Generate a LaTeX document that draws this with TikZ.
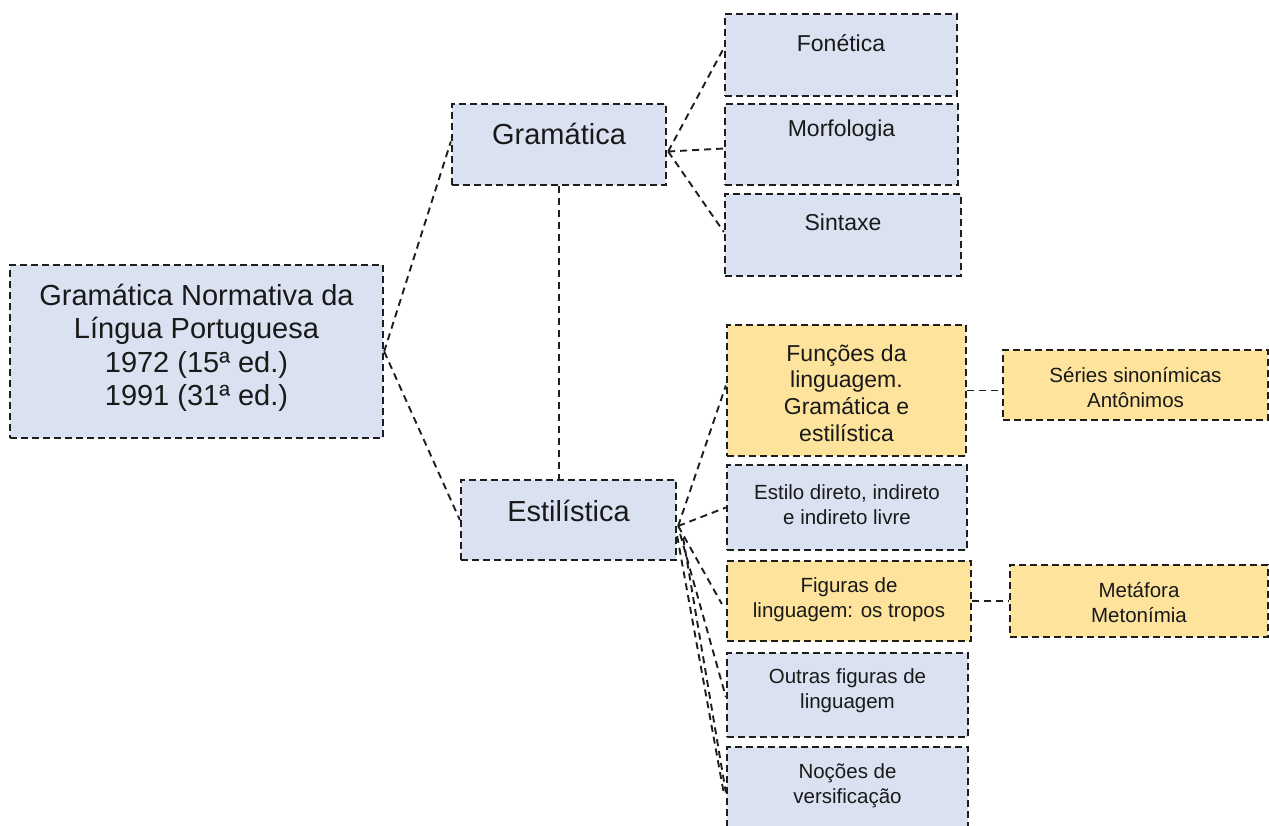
\documentclass[tikz,border=0pt]{standalone}
\usepackage{fontspec}
\setmainfont{Liberation Sans}
\usetikzlibrary{calc}
\definecolor{bfill}{HTML}{DAE2F2}
\definecolor{yfill}{HTML}{FDE39B}
\definecolor{edge}{HTML}{1E1E1E}
\tikzset{
  bbox/.style={draw=edge, line width=2.3pt, dash pattern=on 7pt off 4pt, inner sep=0pt},
  blue/.style={bbox, fill=bfill},
  yel/.style={bbox, fill=yfill},
  big/.style={align=center, font=\fontsize{29}{33.5}\selectfont, inner sep=0pt, text=black!90},
  mid/.style={align=center, font=\fontsize{23}{26.7}\selectfont, inner sep=0pt, text=black!90},
  sml/.style={align=center, font=\fontsize{20.5}{25}\selectfont, inner sep=0pt, text=black!90},
  link/.style={draw=edge, line width=1.9pt, dash pattern=on 7pt off 5pt}
}
\begin{document}
\begin{tikzpicture}[x=1pt,y=-1pt]
\useasboundingbox (0,0) rectangle (1269,826);
% boxes
\node[blue, minimum width=373pt, minimum height=173pt] (root) at (196.5,351.5) {};
\node[blue, minimum width=214pt, minimum height=81pt] (gram) at (559,144.5) {};
\node[blue, minimum width=215pt, minimum height=80pt] (esti) at (568.5,520) {};
\node[blue, minimum width=232pt, minimum height=82pt] (fon) at (841,55) {};
\node[blue, minimum width=233pt, minimum height=81pt] (mor) at (841.5,144.5) {};
\node[blue, minimum width=236pt, minimum height=82pt] (sin) at (843,235) {};
\node[yel, minimum width=239pt, minimum height=131pt] (fun) at (846.5,390.5) {};
\node[blue, minimum width=240pt, minimum height=85pt] (est) at (847,507.5) {};
\node[yel, minimum width=244pt, minimum height=80pt] (fig) at (849,601) {};
\node[blue, minimum width=241pt, minimum height=84pt] (out) at (847.5,695) {};
\node[blue, minimum width=241pt, minimum height=83pt] (noc) at (847.5,788.5) {};
\node[yel, minimum width=265pt, minimum height=70pt] (ser) at (1135.5,385) {};
\node[yel, minimum width=258pt, minimum height=72pt] (met) at (1139,601) {};
% texts
\node[big] (troot) at (196.5,348) {Gramática Normativa da\\Língua Portuguesa\\1972 (15ª ed.)\\1991 (31ª ed.)};
\node[big] (tgram) at (559,134) {Gramática};
\node[big] (testi) at (568.5,511) {Estilística};
\node[mid] (tfon) at (841,43) {Fonética};
\node[mid] (tmor) at (841.5,131) {Morfologia};
\node[mid] (tsin) at (843,222) {Sintaxe};
\node[mid] (tfun) at (846.5,393) {Funções da\\linguagem.\\Gramática e\\estilística};
\node[sml] (test) at (847,505) {Estilo direto, indireto\\e indireto livre};
\node[sml] (tfig) at (849,600) {Figuras de\\linguagem: os tropos};
\node[sml] (tout) at (847.5,691) {Outras figuras de\\linguagem};
\node[sml] (tnoc) at (847.5,786) {Noções de\\versificação};
\node[sml] (tser) at (1135.5,388) {Séries sinonímicas\\Antônimos};
\node[sml] (tmet) at (1139,603) {Metáfora\\Metonímia};
% connectors
\draw[link] (root.east) -- ($(gram.west)+(0,-3)$);
\draw[link] (root.east) -- (esti.west);
\draw[link] (gram.south) -- (gram.south |- esti.north);
\coordinate (gx) at ($(gram.east)+(1,7)$);
\draw[link] (gx) -- ($(fon.west)+(0,-7)$);
\draw[link] (gx) -- ($(mor.west)+(0,4)$);
\draw[link] (gx) -- ($(sin.west)+(0,-3)$);
\coordinate (ex) at ($(esti.east)+(1,6)$);
\draw[link] (ex) -- ($(fun.west)+(0,-5)$);
\draw[link] (ex) -- (est.west);
\draw[link] (ex) -- ($(fig.west)+(-4,3)$);
\draw[link] ($(esti.east)+(3,14)$) -- ($(out.west)+(0,2)$);
\draw[link] ($(esti.east)+(0,16)$) -- ($(noc.west)+(-2,5)$);
\draw[link] ($(esti.east)+(6,18)$) -- ($(noc.west)+(0,4)$);
\draw[link] (fun.east) -- (fun.east -| ser.west);
\draw[link] (fig.east) -- (fig.east -| met.west);
\end{tikzpicture}
\end{document}
